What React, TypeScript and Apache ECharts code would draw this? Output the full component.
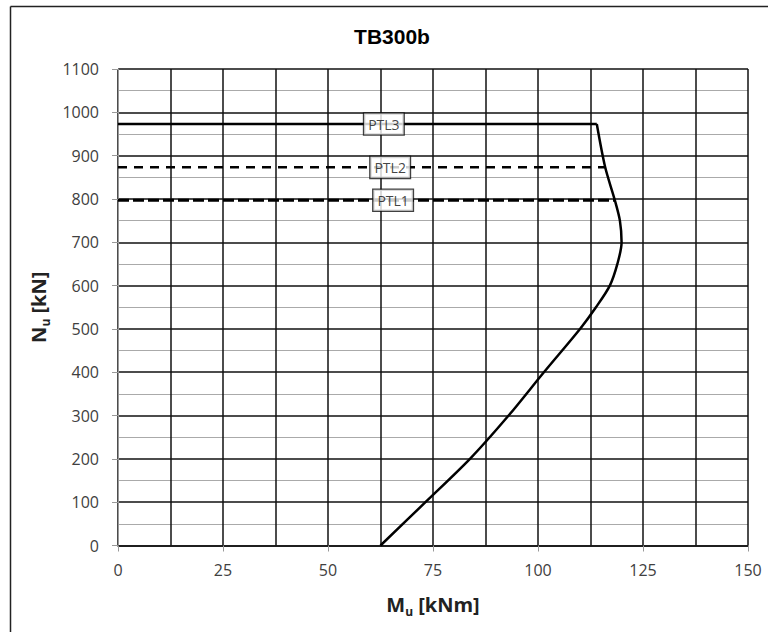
import React, { useEffect, useRef } from "react";
import * as echarts from "echarts";

const titleText = "TB300b";
const xTicks = [0, 25, 50, 75, 100, 125, 150];
const yTicks = [0, 100, 200, 300, 400, 500, 600, 700, 800, 900, 1000, 1100];
// PTL3 plateau Mu [kNm], Nu [kN]
const ptl3M = [0, 114];
const ptl3N = [973, 973];
// interaction curve Mu [kNm], Nu [kN]
const curveM = [114, 116, 118.3, 119.5, 119.9, 118.9, 117.1, 113.8, 110, 101.4, 93, 83.8, 73.2, 62.5];
const curveN = [973, 873, 797, 750, 700, 650, 600, 550, 500, 400, 300, 200, 100, 0];
const ptl2M = [0, 116];
const ptl2N = [873, 873];
const ptl1M = [0, 118.3];
const ptl1N = [797, 797];
const labelNames = ["PTL3", "PTL2", "PTL1"];
const labelM = [63.3, 64.8, 65.5];
const labelN = [973, 873, 797];

export default function App() {
  const ref = useRef<HTMLDivElement>(null);
  useEffect(() => {
    if (!ref.current) return;
    const chart = echarts.init(ref.current, null, { renderer: "svg" });
    const zip = (a: number[], b: number[]) => a.map((v, i) => [v, b[i]]);
    const axisFont = "Open Sans";
    const nameRich = {
      b: { fontFamily: axisFont, fontSize: 20, fontWeight: "bold", color: "#222", lineHeight: 26 },
      s: { fontFamily: axisFont, fontSize: 12, fontWeight: "bold", color: "#222", lineHeight: 12, verticalAlign: "bottom" },
    };
    chart.setOption({
      animation: false,
      backgroundColor: "#fff",
      title: {
        text: titleText,
        left: 387,
        top: 21,
        textAlign: "center",
        textStyle: { fontFamily: "Liberation Sans", fontSize: 21, fontWeight: "bold", color: "#000" },
      },
      graphic: [
        { type: "line", shape: { x1: 10.5, y1: 6.5, x2: 768, y2: 6.5 }, style: { stroke: "#222", lineWidth: 1.5 } },
        { type: "line", shape: { x1: 10.5, y1: 6.5, x2: 10.5, y2: 632 }, style: { stroke: "#222", lineWidth: 1.5 } },
      ],
      grid: { left: 118, right: 20, top: 69, bottom: 86.5, containLabel: false },
      xAxis: {
        type: "value",
        min: xTicks[0],
        max: xTicks[xTicks.length - 1],
        interval: 25,
        name: "{b|M}{s|u}{b| [kNm]}",
        nameLocation: "middle",
        nameGap: 46,
        nameTextStyle: { rich: nameRich },
        axisLine: { show: true, lineStyle: { color: "#111", width: 1.5 } },
        axisTick: { show: true, length: 6, lineStyle: { color: "#999" } },
        axisLabel: { margin: 16, fontFamily: axisFont, fontSize: 16, color: "#404040", formatter: (v: number) => String(v) },
        splitLine: { show: true, lineStyle: { color: "#111", width: 1.5 } },
        minorTick: { show: false, splitNumber: 2 },
        minorSplitLine: { show: true, lineStyle: { color: "#111", width: 1.5 } },
      },
      yAxis: {
        type: "value",
        min: yTicks[0],
        max: yTicks[yTicks.length - 1],
        interval: 100,
        name: "{b|N}{s|u}{b| [kN]}",
        nameLocation: "middle",
        nameGap: 62,
        nameRotate: 90,
        nameTextStyle: { rich: nameRich },
        axisLine: { show: true, lineStyle: { color: "#999", width: 1 } },
        axisTick: { show: true, length: 6, lineStyle: { color: "#999" } },
        axisLabel: { margin: 19, fontFamily: axisFont, fontSize: 16, color: "#404040", formatter: (v: number) => String(v) },
        splitLine: { show: true, lineStyle: { color: "#111", width: 1.5 } },
        minorTick: { show: false, splitNumber: 2 },
        minorSplitLine: { show: true, lineStyle: { color: "#aaa", width: 1 } },
      },
      series: [
        {
          type: "line",
          data: zip(ptl2M, ptl2N),
          showSymbol: false,
          lineStyle: { color: "#000", width: 2.5, type: [9, 7] },
          z: 3,
        },
        {
          type: "line",
          data: zip(ptl1M, ptl1N),
          showSymbol: false,
          lineStyle: { color: "#000", width: 3, type: [11, 4] },
          z: 3,
        },
        {
          type: "line",
          data: zip(ptl3M, ptl3N),
          showSymbol: false,
          lineStyle: { color: "#000", width: 2.5 },
          z: 4,
        },
        {
          type: "line",
          data: zip(curveM, curveN),
          showSymbol: false,
          smooth: 0.3,
          lineStyle: { color: "#000", width: 2.5, join: "round" },
          z: 4,
        },
        {
          type: "scatter",
          symbolSize: 0,
          z: 10,
          data: labelNames.map((n, i) => ({ name: n, value: [labelM[i], labelN[i]] })),
          label: {
            show: true,
            position: "inside",
            formatter: (p: any) => p.name,
            fontFamily: axisFont,
            fontSize: 14,
            color: "#111",
            backgroundColor: "#fff",
            borderColor: "#111",
            borderWidth: 1.3,
            padding: [4, 4, 3, 4],
          },
        },
      ],
    });
    return () => chart.dispose();
  }, []);
  return (
    <div
      ref={ref}
      style={{ position: "fixed", left: 0, top: 0, width: 768, height: 632, background: "#fff" }}
    />
  );
}
